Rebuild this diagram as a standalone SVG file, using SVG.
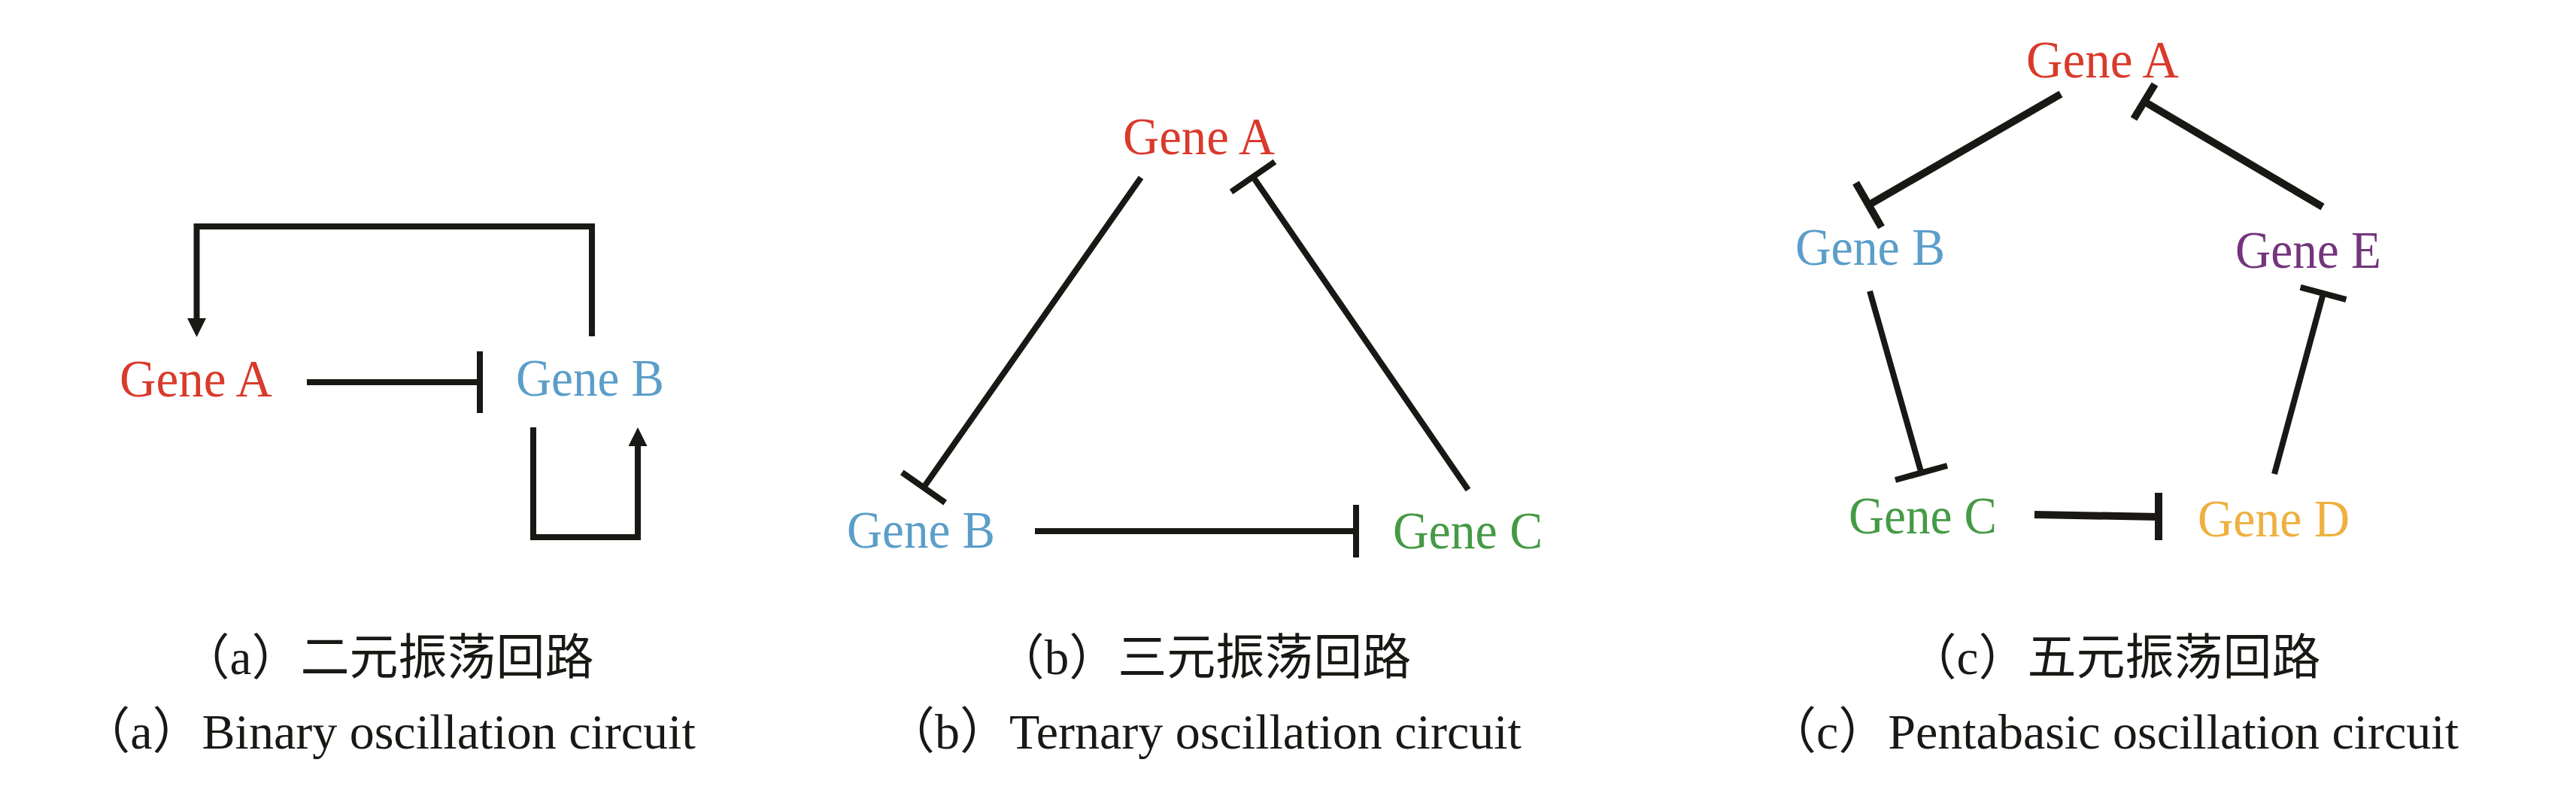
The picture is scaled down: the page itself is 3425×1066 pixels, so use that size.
<svg xmlns="http://www.w3.org/2000/svg" width="3425" height="1066" viewBox="0 0 3425 1066">
<style>
.lbl{font-family:"Liberation Serif","Times New Roman",serif;font-size:70px;}
.a{fill:#d93a2b}.b{fill:#5b9ec9}.c{fill:#459a45}.d{fill:#eeb03f}.e{fill:#73357c}
.cap1{font-family:"Liberation Serif","Noto Sans CJK SC",serif;font-size:65px;fill:#1a1814;text-anchor:middle}
.cap2{font-family:"Liberation Serif","Noto Sans CJK SC",serif;font-size:66px;fill:#1a1814;text-anchor:middle}
.ln{stroke:#1a1814;stroke-width:8;fill:none;stroke-linecap:butt;stroke-linejoin:miter}
.ln9{stroke:#1a1814;stroke-width:10;fill:none;stroke-linecap:butt}
</style>
<defs>
<marker id="arr" markerUnits="userSpaceOnUse" markerWidth="26" markerHeight="26" refX="0" refY="12.5" orient="auto" overflow="visible">
<path d="M0,0 L25,12.5 L0,25 Z" fill="#1a1814"/>
</marker>
</defs>
<rect width="3425" height="1066" fill="#ffffff"/>

<!-- Panel (a) -->
<g id="a-geneA"><text class="lbl a" x="159" y="527" textLength="203" lengthAdjust="spacingAndGlyphs">Gene A</text></g>
<g id="a-geneB"><text class="lbl b" x="686" y="526" textLength="197" lengthAdjust="spacingAndGlyphs">Gene B</text></g>

<!-- Panel (b) -->
<g id="b-geneA"><text class="lbl a" x="1493" y="205" textLength="202" lengthAdjust="spacingAndGlyphs">Gene A</text></g>
<g id="b-geneB"><text class="lbl b" x="1126" y="728" textLength="197" lengthAdjust="spacingAndGlyphs">Gene B</text></g>
<g id="b-geneC"><text class="lbl c" x="1852" y="729" textLength="199" lengthAdjust="spacingAndGlyphs">Gene C</text></g>

<!-- Panel (c) -->
<g id="c-geneA"><text class="lbl a" x="2694" y="103" textLength="203" lengthAdjust="spacingAndGlyphs">Gene A</text></g>
<g id="c-geneB"><text class="lbl b" x="2387" y="352" textLength="199" lengthAdjust="spacingAndGlyphs">Gene B</text></g>
<g id="c-geneC"><text class="lbl c" x="2458" y="709" textLength="197" lengthAdjust="spacingAndGlyphs">Gene C</text></g>
<g id="c-geneD"><text class="lbl d" x="2922" y="713" textLength="202" lengthAdjust="spacingAndGlyphs">Gene D</text></g>
<g id="c-geneE"><text class="lbl e" x="2972" y="356" textLength="194" lengthAdjust="spacingAndGlyphs">Gene E</text></g>

<g id="connectors">
<!-- (a) -->
<path class="ln" d="M787,447 V301 H261.5 V423" marker-end="url(#arr)"/>
<path class="ln" d="M408,508 H638 M638,467 V549"/>
<path class="ln" d="M709,568 V714 H848 V593" marker-end="url(#arr)"/>
<!-- (b) -->
<path class="ln" d="M1517,236 L1228,648 M1199.3,627.9 L1256.7,668.1"/>
<path class="ln" d="M1952,651 L1666,235 M1637,255 L1695,215"/>
<path class="ln" d="M1376,706 H1803 M1803,671 V741"/>
<!-- (c) -->
<path class="ln9" d="M2740,125 L2484.5,272.5 M2467.5,243 L2501.5,302"/>
<path class="ln9" d="M3088,275 L2851,135 M2837,158 L2865,112"/>
<path class="ln" d="M2486,387 L2554.5,628.5 M2520,638 L2589,619"/>
<path class="ln9" d="M2705,684 L2870,687 M2870,655 V718"/>
<path class="ln" d="M3024,630 L3089,390 M3058.6,381.8 L3119.4,398.2"/>
</g>

<g id="captions">
<text class="cap1" x="515" y="896">（a）二元振荡回路</text>
<text class="cap2" x="516" y="995">（a）Binary oscillation circuit</text>
<text class="cap1" x="1600" y="896">（b）三元振荡回路</text>
<text class="cap2" x="1600" y="995">（b）Ternary oscillation circuit</text>
<text class="cap1" x="2811" y="896">（c）五元振荡回路</text>
<text class="cap2" x="2809" y="995">（c）Pentabasic oscillation circuit</text>
</g>
</svg>
